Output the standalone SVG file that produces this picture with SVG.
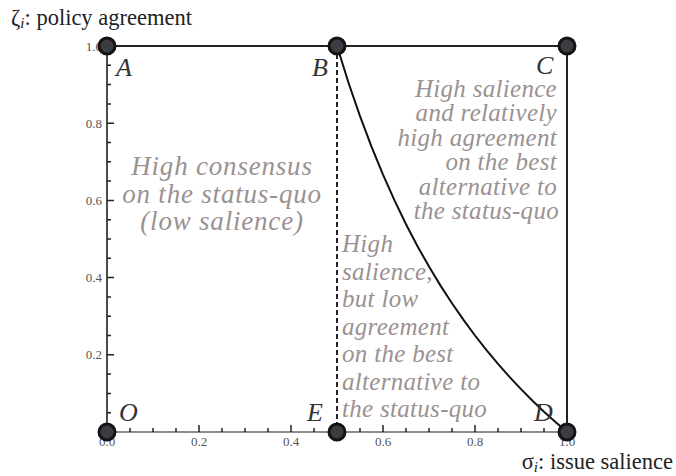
<svg xmlns="http://www.w3.org/2000/svg" width="676" height="476" viewBox="0 0 676 476">
<style>
text{font-family:"Liberation Serif","Times New Roman","DejaVu Serif",serif}
.lbl{font-style:italic;font-size:26px;fill:#333}
.note{font-style:italic;font-size:25px;fill:#9b9191;letter-spacing:0.3px}
.big{font-size:27px;letter-spacing:0.8px}
.tk{font-size:13px;fill:#555}
.ax{font-size:22.5px;fill:#222}
.dot{fill:#3c3c42;stroke:#141414;stroke-width:3}
.tick{stroke:#222;stroke-width:1.5}
</style>
<rect width="676" height="476" fill="#fff"/>
<g id="connectors" fill="none">
<line x1="107" y1="46" x2="107" y2="432" stroke="#111" stroke-width="1.5"/>
<line x1="107" y1="432" x2="567" y2="432" stroke="#666" stroke-width="1.5"/>
<line x1="107" y1="46" x2="567" y2="46" stroke="#222" stroke-width="2"/>
<line x1="567" y1="46" x2="567" y2="432" stroke="#222" stroke-width="2"/>
<line x1="337" y1="46" x2="337" y2="432" stroke="#2e2030" stroke-width="2" stroke-dasharray="5,3"/>
<polyline stroke="#111" stroke-width="2" points="337,46 348.5,82.8 360,116.2 371.5,146.7 383,174.7 394.5,200.4 406,224.2 417.5,246.2 429,266.6 440.5,285.6 452,303.3 463.5,319.9 475,335.5 486.5,350.1 498,363.9 509.5,376.9 521,389.1 532.5,400.7 544,411.7 555.5,422.1 567,432"/>
</g>
<g id="ticks">
<path class="tick" d="M130,432v-4M153,432v-4M176,432v-4M199,432v-7M222,432v-4M245,432v-4M268,432v-4M291,432v-7M314,432v-4M360,432v-4M383,432v-7M406,432v-4M429,432v-4M452,432v-4M475,432v-7M498,432v-4M521,432v-4M544,432v-4"/>
<path class="tick" d="M107,412.7h4M107,393.4h4M107,374.1h4M107,354.8h7M107,335.5h4M107,316.2h4M107,296.9h4M107,277.6h7M107,258.3h4M107,239h4M107,219.7h4M107,200.4h7M107,181.1h4M107,161.8h4M107,142.5h4M107,123.2h7M107,103.9h4M107,84.6h4M107,65.3h4"/>
<g class="tk" text-anchor="middle">
<text x="107" y="446">0.0</text>
<text x="199" y="446">0.2</text>
<text x="291" y="446">0.4</text>
<text x="383" y="446">0.6</text>
<text x="475" y="446">0.8</text>
<text x="567" y="446">1.0</text>
</g>
<g class="tk" text-anchor="end">
<text x="102" y="359">0.2</text>
<text x="102" y="282">0.4</text>
<text x="102" y="204.5">0.6</text>
<text x="102" y="127.5">0.8</text>
<text x="102" y="50.5">1.0</text>
</g>
</g>
<g id="axis-labels">
<text class="ax" x="11" y="25">ζ<tspan font-style="italic" font-size="15" dy="3">i</tspan><tspan dy="-3">: policy agreement</tspan></text>
<text class="ax" x="673" y="469" text-anchor="end">σ<tspan font-style="italic" font-size="15" dy="3">i</tspan><tspan dy="-3">: issue salience</tspan></text>
</g>
<g id="regions">
<text class="note big" text-anchor="middle" x="222"><tspan x="222" y="175">High consensus</tspan><tspan x="222" y="202.5">on the status-quo</tspan><tspan x="222" y="230">(low salience)</tspan></text>
<text class="note" text-anchor="end"><tspan x="557" y="96.5">High salience</tspan><tspan x="557" y="121">and relatively</tspan><tspan x="557" y="145.5">high agreement</tspan><tspan x="557" y="170">on the best</tspan><tspan x="557" y="194.5">alternative to</tspan><tspan x="559" y="219">the status-quo</tspan></text>
<text class="note"><tspan x="342" y="252">High</tspan><tspan x="342" y="279.5">salience,</tspan><tspan x="342" y="307">but low</tspan><tspan x="342" y="334.5">agreement</tspan><tspan x="342" y="362">on the best</tspan><tspan x="342" y="389.5">alternative to</tspan><tspan x="342" y="417">the status-quo</tspan></text>
</g>
<g id="A"><circle class="dot" cx="107" cy="46" r="8"/><text class="lbl" x="116" y="76">A</text></g>
<g id="B"><circle class="dot" cx="337" cy="46" r="8"/><text class="lbl" x="312" y="76">B</text></g>
<g id="C"><circle class="dot" cx="567" cy="46" r="8"/><text class="lbl" x="536" y="74">C</text></g>
<g id="D"><circle class="dot" cx="567" cy="432" r="8"/><text class="lbl" x="534" y="421">D</text></g>
<g id="E"><circle class="dot" cx="337" cy="432" r="8"/><text class="lbl" x="307" y="421">E</text></g>
<g id="O"><circle class="dot" cx="107" cy="432" r="8"/><text class="lbl" x="119" y="421">O</text></g>
</svg>
